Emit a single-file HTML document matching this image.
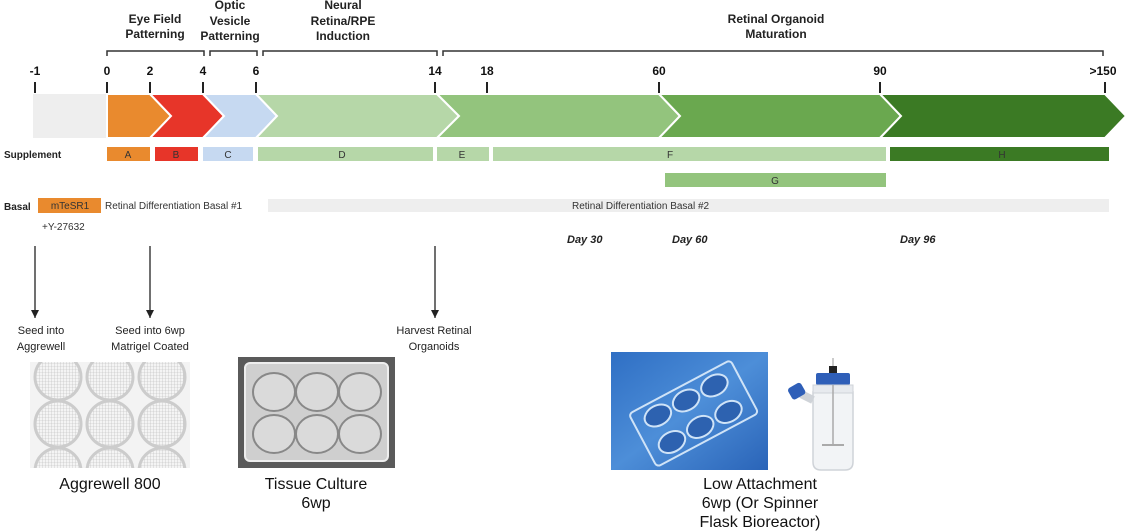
<!DOCTYPE html>
<html><head><meta charset="utf-8"><style>
html,body{margin:0;padding:0;background:#fff;}
svg{display:block;font-family:"Liberation Sans",Arial,sans-serif;}
</style></head><body>
<svg width="1125" height="532" viewBox="0 0 1125 532" xmlns="http://www.w3.org/2000/svg">
<defs>
<marker id="ah" markerWidth="8" markerHeight="8" refX="8" refY="4" orient="auto" markerUnits="userSpaceOnUse"><path d="M0,0 L8,4 L0,8 z" fill="#222"/></marker>
<clipPath id="agc"><rect x="30" y="362" width="160" height="106"/></clipPath>
<pattern id="grid" width="3" height="3" patternUnits="userSpaceOnUse"><rect width="3" height="3" fill="#f4f4f4"/><path d="M0,0H3M0,0V3" stroke="#bbb" stroke-width="0.6"/></pattern>
<linearGradient id="blue" x1="0" y1="0" x2="1" y2="1"><stop offset="0" stop-color="#2f6fc4"/><stop offset="0.5" stop-color="#4d8ed8"/><stop offset="1" stop-color="#2a64b8"/></linearGradient>
</defs>

<g font-weight="bold" font-size="12" fill="#222" text-anchor="middle">
<text x="155" y="23">Eye Field</text><text x="155" y="38">Patterning</text>
<text x="230" y="9">Optic</text><text x="230" y="25">Vesicle</text><text x="230" y="40">Patterning</text>
<text x="343" y="9">Neural</text><text x="343" y="25">Retina/RPE</text><text x="343" y="40">Induction</text>
<text x="776" y="23">Retinal Organoid</text><text x="776" y="38">Maturation</text>
</g>
<g stroke="#333" stroke-width="1.5" fill="none">
<path d="M107,56V51H204V56"/><path d="M210,56V51H257V56"/><path d="M263,56V51H437V56"/><path d="M443,56V51H1103V56"/>
</g>
<g font-weight="bold" font-size="12" fill="#111" text-anchor="middle">
<text x="35" y="75">-1</text><text x="107" y="75">0</text><text x="150" y="75">2</text><text x="203" y="75">4</text><text x="256" y="75">6</text><text x="435" y="75">14</text><text x="487" y="75">18</text><text x="659" y="75">60</text><text x="880" y="75">90</text><text x="1103" y="75">&gt;150</text>
</g>
<g stroke="#222" stroke-width="2">
<path d="M35,82V93M107,82V93M150,82V93M203,82V93M256,82V93M435,82V93M487,82V93M659,82V93M880,82V93M1105,82V93"/>
</g>
<g stroke="#fff" stroke-width="2">
<rect x="33" y="94" width="74" height="44" fill="#eeeeee" stroke="none"/>
<polygon points="107,94 150,94 171,116 150,138 107,138" fill="#e98a2e"/>
<polygon points="150,94 203,94 224,116 203,138 150,138 171,116" fill="#e73529"/>
<polygon points="203,94 256,94 277,116 256,138 203,138 224,116" fill="#c6d9f1"/>
<polygon points="256,94 437,94 459,116 437,138 256,138 277,116" fill="#b6d7a8"/>
<polygon points="437,94 659,94 680,116 659,138 437,138 459,116" fill="#93c47d"/>
<polygon points="659,94 880,94 901,116 880,138 659,138 680,116" fill="#6aa84f"/>
<polygon points="880,94 1105,94 1126,116 1105,138 880,138 901,116" fill="#3b7a24"/>
</g>
<text x="4" y="158" font-weight="bold" font-size="10" fill="#222">Supplement</text>
<g font-size="10" text-anchor="middle" fill="#333">
<rect x="107" y="147" width="43" height="14" fill="#e98a2e"/><text x="128" y="158">A</text>
<rect x="155" y="147" width="43" height="14" fill="#e73529"/><text x="176" y="158">B</text>
<rect x="203" y="147" width="50" height="14" fill="#c6d9f1"/><text x="228" y="158">C</text>
<rect x="258" y="147" width="175" height="14" fill="#b6d7a8"/><text x="342" y="158">D</text>
<rect x="437" y="147" width="52" height="14" fill="#b6d7a8"/><text x="462" y="158">E</text>
<rect x="493" y="147" width="393" height="14" fill="#b6d7a8"/><text x="670" y="158">F</text>
<rect x="890" y="147" width="219" height="14" fill="#3b7a24"/><text x="1002" y="158">H</text>
<rect x="665" y="173" width="221" height="14" fill="#93c47d"/><text x="775" y="184">G</text>
</g>
<text x="4" y="210" font-weight="bold" font-size="10" fill="#222">Basal</text>
<rect x="38" y="198" width="63" height="15" fill="#e98a2e"/>
<text x="70" y="209" font-size="10" text-anchor="middle" fill="#333">mTeSR1</text>
<rect x="268" y="199" width="841" height="13" fill="#eeeeee"/>
<text x="105" y="209" font-size="10" fill="#333">Retinal Differentiation Basal #1</text>
<text x="572" y="209" font-size="10" fill="#333">Retinal Differentiation Basal #2</text>
<text x="42" y="230" font-size="10" fill="#333">+Y-27632</text>
<g font-style="italic" font-weight="bold" font-size="11" fill="#222">
<text x="567" y="243">Day 30</text><text x="672" y="243">Day 60</text><text x="900" y="243">Day 96</text>
</g>
<g stroke="#222" stroke-width="1.3">
<line x1="35" y1="246" x2="35" y2="318" marker-end="url(#ah)"/>
<line x1="150" y1="246" x2="150" y2="318" marker-end="url(#ah)"/>
<line x1="435" y1="246" x2="435" y2="318" marker-end="url(#ah)"/>
</g>
<g font-size="11" fill="#222" text-anchor="middle">
<text x="41" y="334">Seed into</text><text x="41" y="350">Aggrewell</text>
<text x="150" y="334">Seed into 6wp</text><text x="150" y="350">Matrigel Coated</text>
<text x="434" y="334">Harvest Retinal</text><text x="434" y="350">Organoids</text>
</g>
<g clip-path="url(#agc)">
<rect x="30" y="362" width="160" height="106" fill="#f3f3f3"/>
<g fill="url(#grid)" stroke="#ccc" stroke-width="3">
<circle cx="58" cy="377" r="23"/><circle cx="110" cy="377" r="23"/><circle cx="162" cy="377" r="23"/>
<circle cx="58" cy="424" r="23"/><circle cx="110" cy="424" r="23"/><circle cx="162" cy="424" r="23"/>
<circle cx="58" cy="471" r="23"/><circle cx="110" cy="471" r="23"/><circle cx="162" cy="471" r="23"/>
</g>
</g>
<text x="110" y="489" font-size="16" text-anchor="middle" fill="#111">Aggrewell 800</text>
<rect x="238" y="357" width="157" height="111" fill="#5a5a5a"/>
<rect x="245" y="363" width="143" height="98" rx="5" fill="#cfcfcf" stroke="#eee" stroke-width="2"/>
<g fill="#dadada" stroke="#888" stroke-width="2">
<ellipse cx="274" cy="392" rx="21" ry="19"/><ellipse cx="317" cy="392" rx="21" ry="19"/><ellipse cx="360" cy="392" rx="21" ry="19"/>
<ellipse cx="274" cy="434" rx="21" ry="19"/><ellipse cx="317" cy="434" rx="21" ry="19"/><ellipse cx="360" cy="434" rx="21" ry="19"/>
</g>
<text x="316" y="489" font-size="16" text-anchor="middle" fill="#111">Tissue Culture</text>
<text x="316" y="508" font-size="16" text-anchor="middle" fill="#111">6wp</text>
<rect x="611" y="352" width="157" height="118" fill="url(#blue)"/>
<g transform="rotate(-28 690 412)" fill="#2d62b0" stroke="#cfe3f7" stroke-width="2">
<rect x="635" y="385" width="115" height="60" rx="4" fill="none"/>
<ellipse cx="660" cy="400" rx="14" ry="10"/><ellipse cx="692" cy="400" rx="14" ry="10"/><ellipse cx="724" cy="400" rx="14" ry="10"/>
<ellipse cx="660" cy="430" rx="14" ry="10"/><ellipse cx="692" cy="430" rx="14" ry="10"/><ellipse cx="724" cy="430" rx="14" ry="10"/>
</g>
<line x1="833" y1="358" x2="833" y2="372" stroke="#bbb" stroke-width="1.5"/>
<rect x="829" y="366" width="8" height="8" fill="#222"/>
<rect x="816" y="373" width="34" height="12" rx="2" fill="#2f5fb8"/>
<path d="M813,392 h40 v70 q0,8 -8,8 h-24 q-8,0 -8,-8 z" fill="#f2f4f6" stroke="#cfd3d8" stroke-width="1.5"/>
<rect x="813" y="385" width="40" height="8" fill="#e7eaee" stroke="#cfd3d8"/>
<line x1="833" y1="385" x2="833" y2="445" stroke="#aaa" stroke-width="1.5"/>
<line x1="822" y1="445" x2="844" y2="445" stroke="#aaa" stroke-width="2"/>
<path d="M813,400 l-12,-6" stroke="#cfd3d8" stroke-width="8"/>
<rect x="789" y="385" width="15" height="13" rx="3" fill="#2f5fb8" transform="rotate(-30 796 391)"/>
<text x="760" y="489" font-size="16" text-anchor="middle" fill="#111">Low Attachment</text>
<text x="760" y="508" font-size="16" text-anchor="middle" fill="#111">6wp (Or Spinner</text>
<text x="760" y="527" font-size="16" text-anchor="middle" fill="#111">Flask Bioreactor)</text>
</svg>
</body></html>
